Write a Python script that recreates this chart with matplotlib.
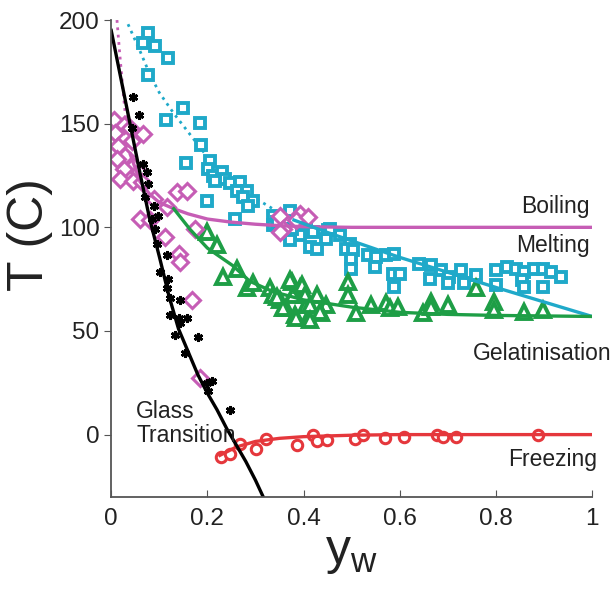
import matplotlib.pyplot as plt
import numpy as np

plt.rcParams['font.family'] = ['Liberation Sans', 'DejaVu Sans']
plt.rcParams['mathtext.fontset'] = 'custom'
plt.rcParams['mathtext.rm'] = 'Liberation Sans'

# fitted curves
glass_x = [0, 0.02, 0.04, 0.06, 0.08, 0.10, 0.12, 0.14, 0.16, 0.18, 0.20, 0.22, 0.24, 0.26, 0.28, 0.30, 0.316]
glass_T = [195, 172, 149, 126, 104, 86, 67, 51, 40, 29, 20, 12, 3, -5, -13, -22, -30]

boil_dot_x = [0.012, 0.018, 0.025, 0.032, 0.04]
boil_dot_T = [200, 183, 165, 148, 135]
boil_x = [0.04, 0.06, 0.08, 0.10, 0.13, 0.16, 0.20, 0.25, 0.30, 0.35, 0.40, 0.50, 1.0]
boil_T = [135, 122, 116, 112, 109, 106.5, 104, 102.5, 101.5, 100.8, 100.3, 100, 100]

melt_dot_x = [0.035, 0.06, 0.08, 0.10, 0.13, 0.16, 0.20, 0.25, 0.30, 0.35, 0.38]
melt_dot_T = [198, 185, 174, 165, 155, 146, 134, 123, 114, 107, 103.5]
melt_x = [0.38, 0.45, 0.50, 0.60, 0.70, 0.80, 0.90, 1.0]
melt_T = [103.5, 97.5, 93.5, 85.5, 78.3, 71, 64, 57]

gel_x = [0.13, 0.164, 0.20, 0.253, 0.288, 0.336, 0.40, 0.50, 0.60, 0.70, 0.80, 1.0]
gel_T = [109, 99, 90, 81.5, 74, 69, 65, 61.5, 59, 58, 57.5, 57]

frz_x = [0.226, 0.26, 0.30, 0.35, 0.40, 0.50, 0.60, 1.0]
frz_T = [-10, -6, -3.3, -1.8, -1, -0.3, 0, 0]

# measured points
red_x = [0.228, 0.248, 0.268, 0.301, 0.322, 0.387, 0.420, 0.428, 0.449, 0.508, 0.524, 0.569, 0.609, 0.677, 0.690, 0.717, 0.887]
red_T = [-11, -9.4, -4.6, -7, -2, -5, 0, -3, -2.7, -2.2, 0, -1.5, -1, 0, -1, -1, 0]

cyan_x = [0.077, 0.067, 0.091, 0.119, 0.077, 0.150, 0.113, 0.185, 0.186, 0.156, 0.205, 0.202, 0.212, 0.230,
          0.237, 0.216, 0.247, 0.268, 0.261, 0.282, 0.274, 0.295, 0.199, 0.285, 0.257, 0.337, 0.371, 0.337,
          0.378, 0.406, 0.392, 0.420, 0.451, 0.447, 0.475, 0.413, 0.344, 0.392, 0.375, 0.371, 0.427, 0.454,
          0.496, 0.489, 0.503, 0.499, 0.499, 0.534, 0.551, 0.572, 0.589, 0.548, 0.586, 0.600, 0.589, 0.641,
          0.665, 0.662, 0.686, 0.703, 0.700, 0.728, 0.759, 0.734, 0.800, 0.800, 0.824, 0.842, 0.859, 0.880,
          0.897, 0.914, 0.935, 0.855, 0.859, 0.897]
cyan_T = [193.6, 188.8, 187.5, 181.6, 173.6, 157.6, 151.7, 150.4, 139.8, 130.9, 132.2, 128.1, 124.9, 126.5,
          123.3, 122.4, 121.6, 121.9, 117.7, 117.7, 114.4, 112.9, 112.9, 110.5, 104.1, 105.7, 108.1, 100.9,
          99.3, 102.5, 96.1, 97.7, 98.5, 94.5, 96.1, 90.5, 102.5, 102.5, 99.3, 93.7, 89.7, 99.3,
          92.1, 89.7, 88.9, 84.9, 80.1, 86.5, 85.7, 86.5, 87.3, 80.9, 77.7, 77.7, 71.3, 82.5,
          81.7, 75.3, 79.3, 76.1, 72.9, 79.3, 76.9, 72.9, 79.3, 72.1, 80.9, 80.1, 78.5, 80.1,
          80.1, 78.5, 76.1, 74.5, 71.3, 71.3]

green_x = [0.199, 0.219, 0.261, 0.233, 0.282, 0.295, 0.330, 0.337, 0.351, 0.375, 0.392, 0.378, 0.364, 0.382,
           0.409, 0.406, 0.427, 0.447, 0.437, 0.371, 0.396, 0.402, 0.413, 0.434, 0.385, 0.413, 0.492, 0.492,
           0.510, 0.541, 0.572, 0.579, 0.596, 0.648, 0.665, 0.665, 0.700, 0.759, 0.797, 0.797, 0.859, 0.897,
           0.344, 0.357]
green_T = [97.7, 91.3, 80.1, 76.1, 70.5, 72.9, 70.5, 67.3, 64.9, 73.7, 70.5, 67.3, 60.9, 57.7,
           56.1, 62.5, 67.3, 62.5, 58.5, 74.5, 72.1, 67.3, 62.5, 59.3, 56.1, 55.3, 73.7, 67.3,
           58.5, 62.5, 63.3, 60.9, 61.7, 58.5, 64.1, 61.7, 62.5, 70.5, 64.1, 60.1, 59.3, 60.1,
           66.5, 61]

black_x = [0.046, 0.057, 0.043, 0.067, 0.074, 0.077, 0.071, 0.088, 0.098, 0.084, 0.091, 0.095, 0.116, 0.102,
           0.119, 0.116, 0.122, 0.143, 0.122, 0.140, 0.143, 0.157, 0.133, 0.181, 0.154, 0.199, 0.209, 0.202,
           0.247]
black_T = [163, 154.4, 148, 130.4, 126.5, 120.9, 114.4, 110.5, 105.7, 104.1, 99.3, 92.1, 86.5, 78.5,
           75.3, 70.5, 65.7, 64.9, 57.7, 56.1, 53.7, 56.1, 48.1, 47.3, 39.3, 24.9, 25.7, 20.9,
           12.1]

pink_x = [0.005, 0.026, 0.008, 0.039, 0.043, 0.067, 0.015, 0.029, 0.012, 0.046, 0.026, 0.057, 0.019, 0.046,
          0.064, 0.136, 0.158, 0.088, 0.116, 0.060, 0.081, 0.174, 0.112, 0.140, 0.143, 0.167, 0.185,
          0.351, 0.357, 0.392, 0.385, 0.409, 0.351]
pink_T = [152, 149.6, 145.6, 148, 141.7, 144.8, 139.3, 134.4, 132.8, 129.6, 128.1, 126.5, 123.3, 122.5,
          121.7, 116.9, 117.7, 113.7, 109.7, 104.1, 103.3, 99.3, 95.3, 87.3, 83.3, 64.9, 27.3,
          105.7, 99.3, 106.5, 103.3, 104.9, 97.7]

cyan = '#1fa9c9'
pink = '#c65db5'
green = '#1e9e46'
red = '#e5373c'

fig = plt.figure(figsize=(6.11, 5.90), dpi=100)
ax = fig.add_axes([0.182, 0.158, 0.787, 0.808])

ax.plot(melt_dot_x, melt_dot_T, ':', color=cyan, lw=2)
ax.plot(boil_dot_x, boil_dot_T, ':', color=pink, lw=2)

ax.plot(cyan_x, cyan_T, 's', ms=7, mfc='white', mec=cyan, mew=2.8, ls='none')
ax.plot(green_x, green_T, '^', ms=9.5, mfc='white', mec=green, mew=2.8, ls='none')
ax.plot(pink_x, pink_T, 'D', ms=8, mfc='white', mec=pink, mew=2.2, ls='none')
ax.plot(black_x, black_T, marker=(6, 2, 0), ms=6.5, mec='black', mew=2, ls='none')
ax.plot(red_x, red_T, 'o', ms=7.5, mfc='white', mec=red, mew=2.2, ls='none')

ax.plot(boil_x, boil_T, '-', color=pink, lw=2.4)
ax.plot(melt_x, melt_T, '-', color=cyan, lw=2.4)
ax.plot(gel_x, gel_T, '-', color=green, lw=2.4)
ax.plot(frz_x, frz_T, '-', color=red, lw=2.4)
ax.plot(glass_x, glass_T, '-', color='black', lw=2.4)

tc = '#222222'
fs = 16.5
ax.text(0.995, 110, 'Boiling', ha='right', va='center', fontsize=fs, color=tc)
ax.text(0.995, 91, 'Melting', ha='right', va='center', fontsize=fs, color=tc)
ax.text(1.04, 39, 'Gelatinisation', ha='right', va='center', fontsize=fs, color=tc, clip_on=False)
ax.text(1.01, -12, 'Freezing', ha='right', va='center', fontsize=fs, color=tc, clip_on=False)
ax.text(0.052, 11, 'Glass', ha='left', va='center', fontsize=fs, color=tc)
ax.text(0.052, -0.5, 'Transition', ha='left', va='center', fontsize=fs, color=tc)

ax.set_xlim(0, 1)
ax.set_ylim(-30, 200)
ax.set_xticks([0, 0.2, 0.4, 0.6, 0.8, 1])
ax.set_xticklabels(['0', '0.2', '0.4', '0.6', '0.8', '1'])
ax.set_yticks([0, 50, 100, 150, 200])
ax.spines['top'].set_visible(False)
ax.spines['right'].set_visible(False)
for s in ['left', 'bottom']:
    ax.spines[s].set_color('#555555')
    ax.spines[s].set_linewidth(1.3)
ax.tick_params(axis='x', direction='in', length=5, color='#555555', labelsize=17.5, labelcolor=tc, pad=8)
ax.tick_params(axis='y', direction='out', length=5, color='#555555', labelsize=17.5, labelcolor=tc)
ax.set_ylabel('T (C)', fontsize=36, color=tc)
ax.yaxis.set_label_coords(-0.12, 0.55)
ax.set_xlabel('y$_\\mathregular{w}$', fontsize=36, color=tc, labelpad=0)

fig.savefig('out.png', dpi=100)
